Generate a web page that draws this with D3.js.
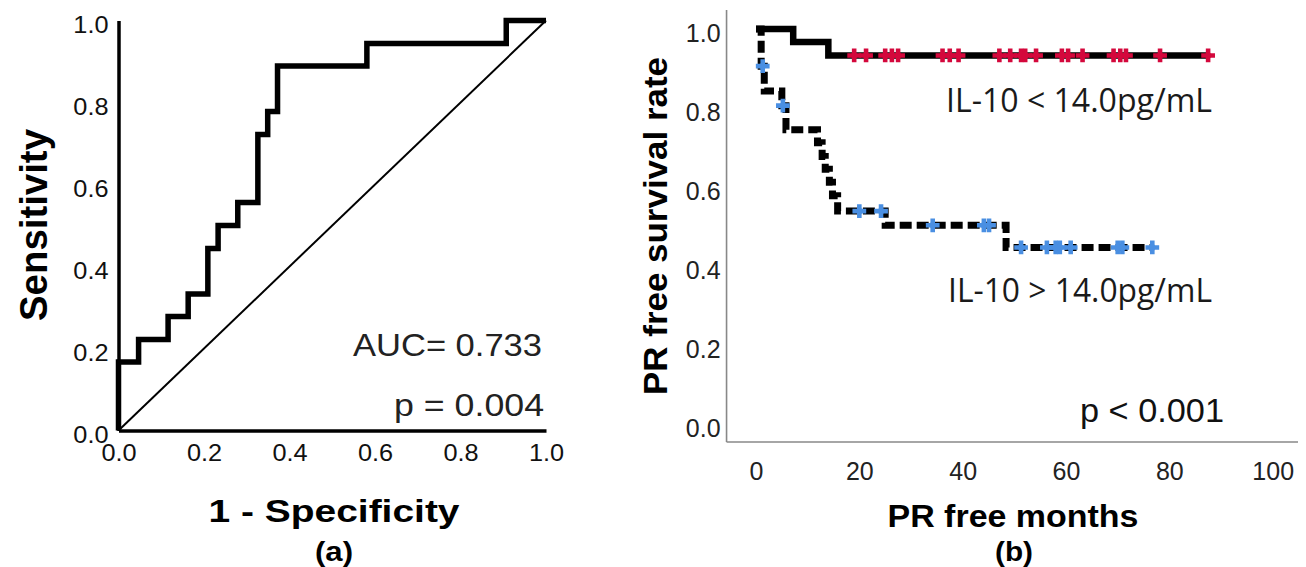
<!DOCTYPE html>
<html><head><meta charset="utf-8">
<script src="https://cdn.jsdelivr.net/npm/d3@7"></script>
<style>body{margin:0;background:#fff;}svg{display:block;}</style>
</head><body>
<script>
// ---------- DATA ----------
// (a) ROC curve step corners
const rocFPR = [0, 0, 0.047, 0.116, 0.163, 0.209, 0.233, 0.279, 0.326, 0.349, 0.372, 0.581, 0.907, 1];
const rocTPR = [0, 0.167, 0.222, 0.278, 0.333, 0.444, 0.5, 0.556, 0.722, 0.778, 0.889, 0.944, 1, 1];
const rocTicks = [0, 0.2, 0.4, 0.6, 0.8, 1.0];
const aucText = "AUC= 0.733";
const rocPText = "p = 0.004";

// (b) Kaplan-Meier curves
const lowTimes = [0, 7.2, 14.0, 87.5];
const lowSurv  = [1.0, 0.967, 0.933, 0.933];
const lowCensor = [19.0, 21.3, 25.0, 26.3, 27.5, 36.1, 37.5, 39.2, 47.1, 49.2, 51.3, 52.1, 54.2, 59.2, 60.4, 63.2, 69.2, 70.5, 71.6, 78.2, 87.5];
const highTimes = [0, 1.0, 1.6, 5.0, 5.8, 11.9, 12.8, 13.4, 14.2, 14.8, 15.8, 25.0, 48.4, 76.7];
const highSurv  = [1.0, 0.906, 0.843, 0.806, 0.745, 0.712, 0.677, 0.645, 0.612, 0.578, 0.539, 0.503, 0.447, 0.447];
const highCensor = [1.3, 5.2, 20.0, 24.2, 34.2, 44.1, 45.1, 51.3, 56.3, 58.0, 58.8, 60.9, 70.0, 70.9, 76.7];
const kmXTicks = [0, 20, 40, 60, 80, 100];
const kmYTicks = [0, 0.2, 0.4, 0.6, 0.8, 1.0];
const lowLabel = "IL-10 < 14.0pg/mL";
const highLabel = "IL-10 > 14.0pg/mL";
const kmPText = "p < 0.001";

// ---------- DRAW ----------
const W = 1306, H = 567;
const svg = d3.select("body").append("svg").attr("width", W).attr("height", H);
svg.append("rect").attr("width", W).attr("height", H).attr("fill", "#fff");

function txt(x, y, s, o) {
  const t = svg.append("text").attr("x", x).attr("y", y).text(s)
    .attr("font-family", o.family || "'Liberation Sans', Arial, sans-serif")
    .attr("font-size", o.size).attr("fill", o.fill || "#111")
    .attr("font-weight", o.weight || "normal")
    .attr("text-anchor", o.anchor || "start");
  if (o.len) t.attr("textLength", o.len).attr("lengthAdjust", "spacingAndGlyphs");
  if (o.rotate) t.attr("transform", `rotate(${o.rotate},${x},${y})`);
  return t;
}

// ===== Panel (a) =====
const xL = d3.scaleLinear().domain([0, 1]).range([118.5, 546]);
const yL = d3.scaleLinear().domain([0, 1]).range([430.5, 20.5]);

svg.append("line")
  .attr("x1", xL(0)).attr("y1", yL(0)).attr("x2", xL(1)).attr("y2", yL(1))
  .attr("stroke", "#000").attr("stroke-width", 2);

const rocPts = rocFPR.map((f, i) => [f, rocTPR[i]]);
svg.append("path").datum(rocPts)
  .attr("d", d3.line().x(d => xL(d[0])).y(d => yL(d[1])).curve(d3.curveStepAfter))
  .attr("fill", "none").attr("stroke", "#000").attr("stroke-width", 5.5)
  .attr("stroke-linejoin", "miter");

const axBL = svg.append("g").attr("transform", `translate(0,${yL(0)})`)
  .call(d3.axisBottom(xL).tickValues(rocTicks).tickFormat(d3.format(".1f")).tickSize(0).tickSizeOuter(0).tickPadding(14));
const axLL = svg.append("g").attr("transform", `translate(${xL(0)},0)`)
  .call(d3.axisLeft(yL).tickValues(rocTicks).tickFormat(d3.format(".1f")).tickSize(0).tickSizeOuter(0).tickPadding(10));
[axBL, axLL].forEach(a => {
  a.select(".domain").attr("stroke", "#000").attr("stroke-width", 3.5);
  a.selectAll("text").attr("font-family", "'Liberation Sans', Arial, sans-serif")
    .attr("font-size", 23).attr("fill", "#111");
});
axLL.selectAll("text").attr("dy", "0.52em");
axBL.selectAll("text").attr("transform", "scale(1.1,1)");
axLL.selectAll("text").attr("x", -10 / 1.1).attr("transform", "scale(1.1,1)");

txt(542, 356, aucText, {size: 32, anchor: "end", len: 189, fill: "#222"});
txt(544, 416, rocPText, {size: 32, anchor: "end", len: 150, fill: "#222"});
txt(334, 522, "1 - Specificity", {size: 32, weight: "bold", anchor: "middle", len: 251, fill: "#000"});
txt(334, 561, "(a)", {size: 28, weight: "bold", anchor: "middle", len: 38, fill: "#000"});
txt(47, 225, "Sensitivity", {size: 38, weight: "bold", anchor: "middle", rotate: -90, len: 192, fill: "#000"});

// ===== Panel (b) =====
const xR = d3.scaleLinear().domain([0, 100]).range([756, 1272.7]);
const yR = d3.scaleLinear().domain([0, 1]).range([424, 29]);
const xFrame = [-5.7, 104.9], yFrame = [-0.0456, 1.048];

svg.append("line").attr("x1", xR(xFrame[0])).attr("x2", xR(xFrame[0]))
  .attr("y1", yR(yFrame[0])).attr("y2", yR(yFrame[1]))
  .attr("stroke", "#888").attr("stroke-width", 1.6);
svg.append("line").attr("x1", xR(xFrame[0])).attr("x2", xR(xFrame[1]))
  .attr("y1", yR(yFrame[0])).attr("y2", yR(yFrame[0]))
  .attr("stroke", "#888").attr("stroke-width", 1.6);

const axBR = svg.append("g").attr("transform", `translate(0,${yR(yFrame[0])})`)
  .call(d3.axisBottom(xR).tickValues(kmXTicks).tickFormat(d3.format("d")).tickSize(0).tickPadding(20));
const axLR = svg.append("g").attr("transform", `translate(${xR(xFrame[0])},0)`)
  .call(d3.axisLeft(yR).tickValues(kmYTicks).tickFormat(d3.format(".1f")).tickSize(0).tickPadding(6));
[axBR, axLR].forEach(a => {
  a.select(".domain").remove();
  a.selectAll("text").attr("font-family", "'Liberation Sans Narrow', 'Liberation Sans', Arial, sans-serif")
    .attr("font-size", 25).attr("fill", "#222");
});
axLR.selectAll("text").attr("dy", "0.48em");

const kmLine = d3.line().x(d => xR(d[0])).y(d => yR(d[1])).curve(d3.curveStepAfter);
const lowPts = lowTimes.map((t, i) => [t, lowSurv[i]]);
const highPts = highTimes.map((t, i) => [t, highSurv[i]]);

svg.append("path").datum(lowPts).attr("d", kmLine)
  .attr("fill", "none").attr("stroke", "#000").attr("stroke-width", 6.5);
svg.append("path").datum(highPts).attr("d", kmLine)
  .attr("fill", "none").attr("stroke", "#000").attr("stroke-width", 7)
  .attr("stroke-dasharray", "12,5");

function survAt(times, surv, t) {
  const i = d3.bisectRight(times, t) - 1;
  return surv[Math.max(0, i)];
}
const cross = d3.symbol().type(d3.symbolCross).size(105);
const diamond = d3.symbol().type(d3.symbolDiamond).size(45);
function censor(data, times, surv, color) {
  const g = svg.append("g");
  const pos = d => `translate(${xR(d)},${yR(survAt(times, surv, d))})`;
  g.selectAll("path.c").data(data).join("path").attr("class", "c")
    .attr("d", cross).attr("transform", pos).attr("fill", color);
  g.selectAll("path.d").data(data).join("path").attr("class", "d")
    .attr("d", diamond).attr("transform", pos).attr("fill", color);
}
censor(lowCensor, lowTimes, lowSurv, "#d4083c");
censor(highCensor, highTimes, highSurv, "#4a8fe2");

txt(1212, 112, lowLabel, {size: 33, anchor: "end", len: 266, fill: "#1a1a1a", family: "'Open Sans', 'Noto Sans', sans-serif"});
txt(1212, 302, highLabel, {size: 33, anchor: "end", len: 264, fill: "#1a1a1a", family: "'Open Sans', 'Noto Sans', sans-serif"});
txt(1224, 422, kmPText, {size: 34, anchor: "end", len: 144, fill: "#111"});
txt(1013, 527, "PR free months", {size: 32, weight: "bold", anchor: "middle", len: 251, fill: "#000"});
txt(1014, 561, "(b)", {size: 28, weight: "bold", anchor: "middle", len: 38, fill: "#000"});
txt(667, 226, "PR free survival rate", {size: 33, weight: "bold", anchor: "middle", rotate: -90, len: 338, fill: "#000"});
</script>
</body></html>
